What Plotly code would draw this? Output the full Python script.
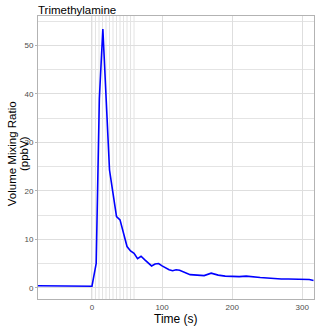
import plotly.graph_objects as go

# time (s) and TMA mixing ratio (ppbV)
time_s = [-77, -60, -40, -20, 0, 6, 10.5, 15.5, 20, 25, 30, 35, 40, 45, 50, 55, 60,
          65, 70, 75, 80, 85, 90, 95, 100, 105, 110, 115, 120, 125, 130, 135, 140,
          150, 160, 170, 180, 190, 200, 210, 220, 230, 240, 250, 260, 265, 270,
          280, 290, 300, 310, 316]
vmr_ppbv = [0.4, 0.4, 0.35, 0.35, 0.3, 5.0, 39.0, 53.4, 38.5, 24.3, 19.5, 14.7, 14.0,
            11.0, 8.5, 7.6, 7.1, 6.0, 6.5, 5.8, 5.2, 4.5, 4.9, 5.0, 4.5, 4.1, 3.7,
            3.5, 3.7, 3.6, 3.3, 2.9, 2.7, 2.6, 2.5, 3.0, 2.6, 2.4, 2.3, 2.3, 2.4,
            2.2, 2.1, 2.0, 1.9, 1.7, 1.8, 1.8, 1.8, 1.8, 1.7, 1.5]
# injection marker lines every 5 s
marker_times = list(range(0, 65, 5))

GRID = "#dedede"
BORDER = "#b3b3b3"
FONT = "Liberation Sans, Arial, sans-serif"

fig = go.Figure()
for t in marker_times:
    fig.add_shape(type="line", xref="x", yref="paper", x0=t, x1=t, y0=0, y1=1,
                  line={"color": "#dcdcdc", "width": 0.8}, layer="below")

fig.add_trace(go.Scatter(x=time_s, y=vmr_ppbv, mode="lines",
                         line={"color": "#0000ff", "width": 1.6}, showlegend=False,
                         hoverinfo="skip"))

# axis titles as annotations so the margins stay fixed
for text, shift in (("Volume Mixing Ratio", -26.3), ("(ppbV)", -14.5)):
    fig.add_annotation(text=text, textangle=-90,
                       xref="paper", yref="paper", x=0, y=0.5, xshift=shift, yshift=4,
                       xanchor="center", yanchor="middle", showarrow=False,
                       font={"size": 11.5, "color": "black"})
fig.add_annotation(text="Time (s)", xref="paper", yref="paper", x=0.5, y=0,
                   yshift=-19.5, xanchor="center", yanchor="middle", showarrow=False,
                   font={"size": 12, "color": "black"})

fig.update_layout(
    width=320, height=326,
    margin={"l": 38, "r": 6, "t": 16, "b": 27, "autoexpand": False},
    paper_bgcolor="white", plot_bgcolor="white",
    font={"family": FONT, "color": "black"},
    title={"text": "Trimethylamine", "x": 38 / 320, "xanchor": "left",
           "y": 1 - 10 / 326, "yanchor": "middle", "font": {"size": 11.5}},
)
fig.update_xaxes(
    range=[-77, 316.7], dtick=100, tick0=0, automargin=False,
    showgrid=True, gridcolor=GRID, gridwidth=1, zeroline=False,
    showline=True, linecolor=BORDER, linewidth=1, mirror=True,
    ticks="", ticklen=0,
    tickfont={"size": 8, "color": "#4d4d4d"},
)
fig.update_yaxes(
    range=[-2.33, 56.1], dtick=10, tick0=0, automargin=False,
    showgrid=True, gridcolor=GRID, gridwidth=1, zeroline=False,
    minor={"dtick": 5, "showgrid": True, "gridcolor": "#e4e4e4", "gridwidth": 0.8},
    showline=True, linecolor=BORDER, linewidth=1, mirror=True,
    ticks="outside", ticklen=2, tickcolor=BORDER,
    tickfont={"size": 8, "color": "#4d4d4d"},
)

fig.write_html("out.html", config={"displayModeBar": False},
               post_script="document.body.style.margin='0';")
